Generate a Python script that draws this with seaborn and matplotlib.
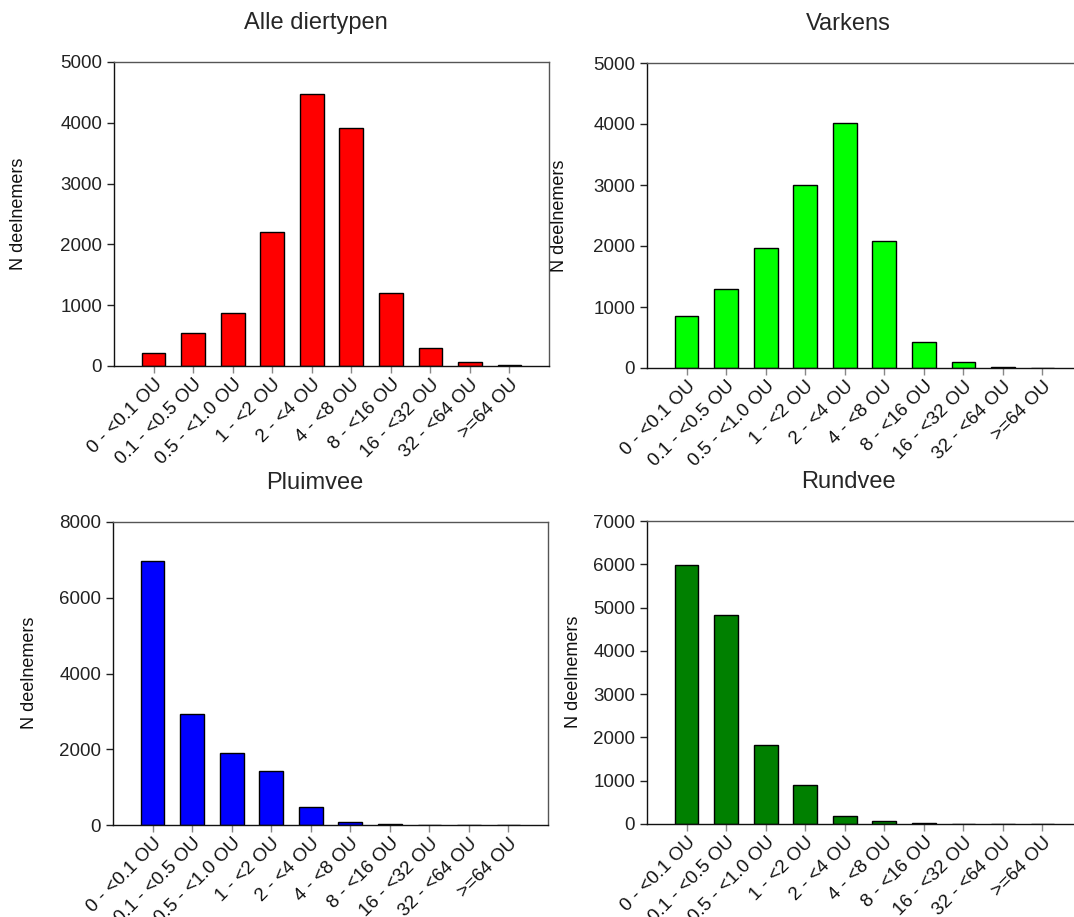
import numpy as np
import pandas as pd
import seaborn as sns
import matplotlib
matplotlib.use("Agg")
import matplotlib.pyplot as plt

# klassen geurbelasting
klassen = ["0 - <0.1 OU", "0.1 - <0.5 OU", "0.5 - <1.0 OU", "1 - <2 OU", "2 - <4 OU",
           "4 - <8 OU", "8 - <16 OU", "16 - <32 OU", "32 - <64 OU", ">=64 OU"]

alle = [208, 537, 876, 2205, 4474, 3910, 1195, 300, 60, 10]
varkens = [854, 1303, 1971, 3006, 4014, 2075, 433, 104, 20, 3]
pluimvee = [6974, 2930, 1904, 1430, 482, 88, 30, 5, 2, 1]
rundvee = [5978, 4833, 1836, 891, 177, 61, 25, 3, 1, 0]

titels = ["Alle diertypen", "Varkens", "Pluimvee", "Rundvee"]
kleuren = ["#ff0000", "#00ff00", "#0000ff", "#008000"]
yticks = [np.arange(0, 5001, 1000), np.arange(0, 5001, 1000),
          np.arange(0, 8001, 2000), np.arange(0, 7001, 1000)]

sns.set_style("ticks")
plt.rcParams["font.family"] = ["Liberation Sans", "DejaVu Sans"]

W, H = 1074, 917
fig = plt.figure(figsize=(W / 100, H / 100), dpi=100)

# axes posities in pixels: left, top, right, bottom
boxen = [(114, 62, 549, 366), (647, 63, 1082, 368),
         (113, 522, 548, 825), (647, 521, 1082, 824)]
ylab_pos = [(19, 214), (560, 216), (30, 673), (574, 672)]

data = [alle, varkens, pluimvee, rundvee]
for i in range(4):
    l, t, r, b = boxen[i]
    ax = fig.add_axes([l / W, 1 - b / H, (r - l) / W, (b - t) / H])
    df = pd.DataFrame({"klasse": klassen, "n": data[i]})
    sns.barplot(data=df, x="klasse", y="n", color=kleuren[i], saturation=1,
                width=0.6, edgecolor="black", linewidth=1, ax=ax)
    ax.set_xlim(-1, 10)
    ax.set_ylim(0, yticks[i][-1])
    ax.set_yticks(yticks[i])
    ax.set_xlabel("")
    ax.set_ylabel("")
    ax.tick_params(axis="both", labelsize=13.5, length=5, width=1, colors="#222222",
                   direction="out")
    ax.tick_params(axis="x", colors="#888888", labelcolor="#111111", pad=2)
    plt.setp(ax.get_xticklabels(), rotation=45, ha="right", va="top",
             rotation_mode="anchor")
    for side in ["top", "right"]:
        ax.spines[side].set_color("#555555")
    for side in ["bottom", "left"]:
        ax.spines[side].set_color("#111111")
    for s in ax.spines.values():
        s.set_linewidth(1)
    ax.set_title(titels[i], fontsize=17, x=0.463, pad=24)
    fig.text(ylab_pos[i][0] / W, 1 - ylab_pos[i][1] / H, "N deelnemers",
             rotation=90, ha="center", va="center", fontsize=13, color="#111111")

fig.savefig("out.png", dpi=100)
